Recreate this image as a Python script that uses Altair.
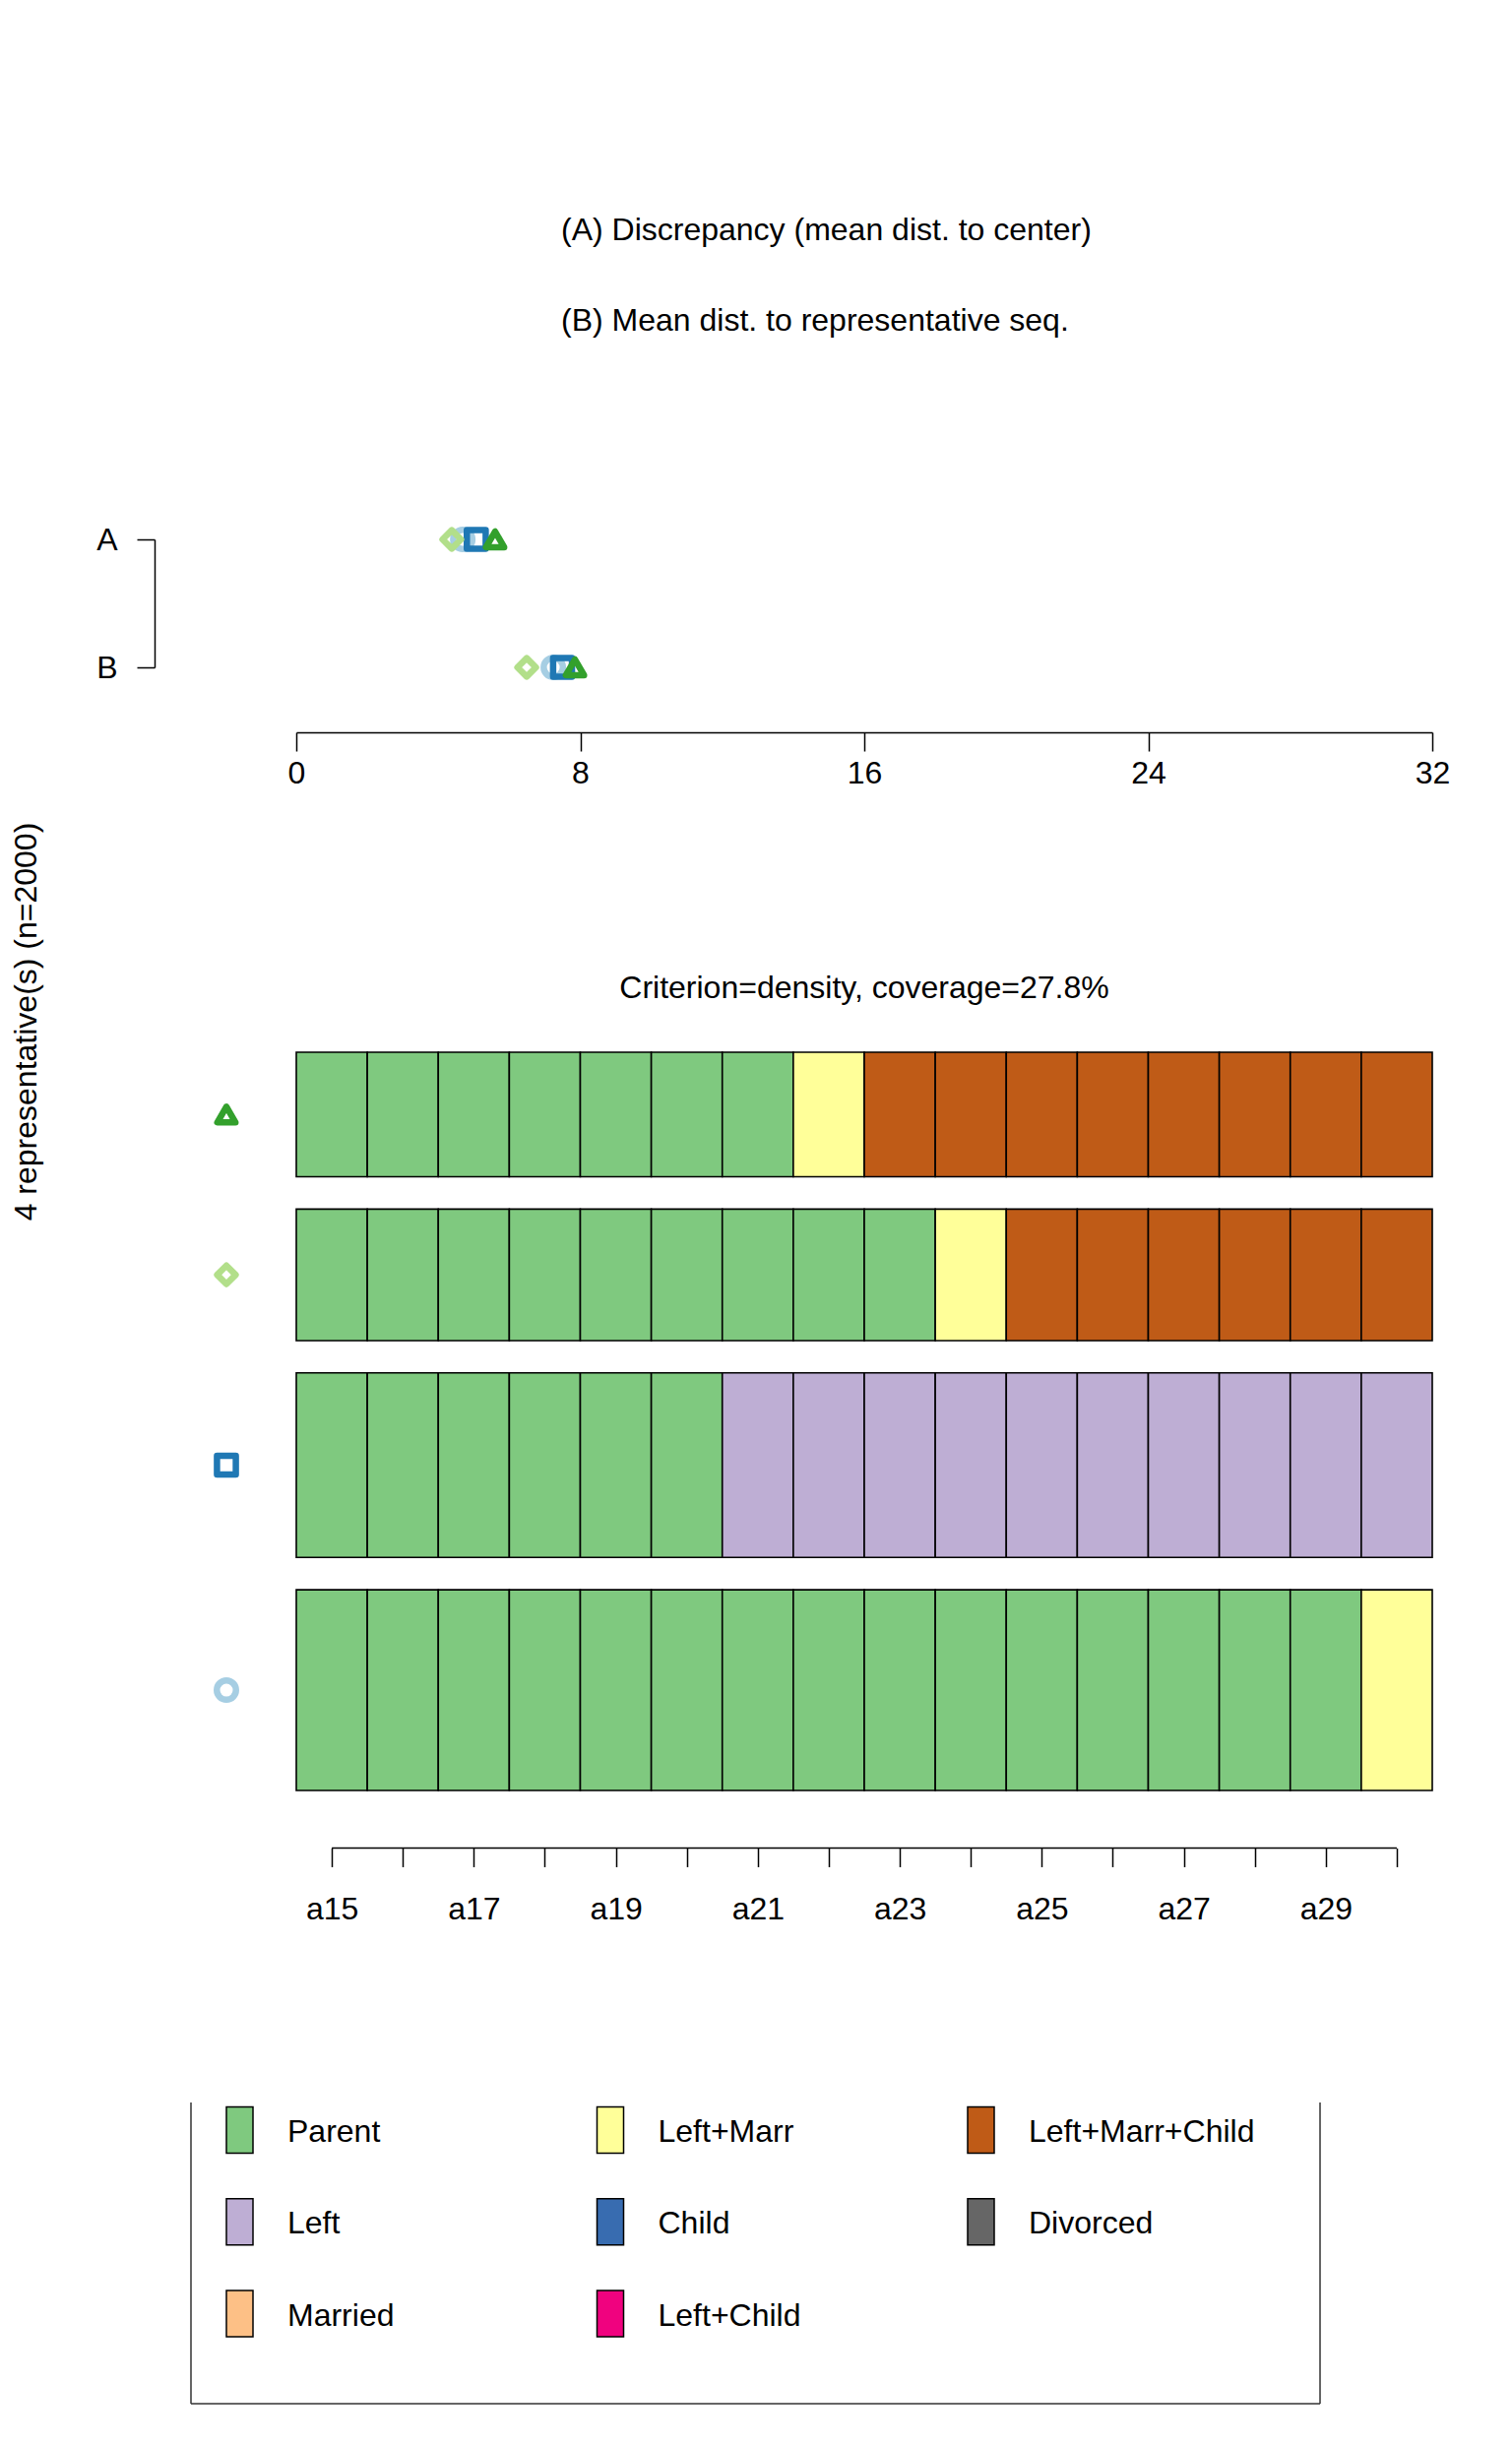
import altair as alt
import pandas as pd

# ---------------- data ----------------
rep_ids = ["1", "2", "3", "4"]
rep_shapes = ["circle", "square", "diamond", "triangle-up"]
rep_colors = ["#A6CEE3", "#1F78B4", "#B2DF8A", "#33A02C"]
rep_sizes = [380, 340, 680, 650]
rep_weights = [174, 160, 114, 108]          # sequences represented (sum = 556 = 27.8% of 2000)

disc_A = [4.69, 5.07, 4.38, 5.60]           # (A) discrepancy
dist_B = [7.24, 7.50, 6.49, 7.85]           # (B) mean dist. to representative
dist_titles = ["(A) Discrepancy (mean dist. to center)", "(B) Mean dist. to representative seq."]
dist_ticks = [0, 8, 16, 24, 32]

ages = list(range(15, 31))
states = ["Parent", "Left", "Married", "Left+Marr", "Child",
          "Left+Child", "Left+Marr+Child", "Divorced"]
state_colors = ["#7FC97F", "#BEAED4", "#FDC086", "#FFFF99", "#386CB0",
                "#F0027F", "#BF5B17", "#666666"]

seq_rep1 = ["Parent"] * 15 + ["Left+Marr"]
seq_rep2 = ["Parent"] * 6 + ["Left"] * 10
seq_rep3 = ["Parent"] * 9 + ["Left+Marr"] + ["Left+Marr+Child"] * 6
seq_rep4 = ["Parent"] * 7 + ["Left+Marr"] + ["Left+Marr+Child"] * 8
sequences = [seq_rep1, seq_rep2, seq_rep3, seq_rep4]

subtitle = "Criterion=density, coverage=27.8%"
ytitle = "4 representative(s) (n=2000)"

# ---------------- tables ----------------
GAP = 28
offsets = []
acc = 0
for w in rep_weights:
    offsets.append(acc)
    acc += w + GAP
y_total = acc - GAP

seq_rows = []
for r, seq, off, w in zip(rep_ids, sequences, offsets, rep_weights):
    for a, s in zip(ages, seq):
        seq_rows.append({"rep": r, "age": a, "state": s, "y0": off, "y1": off + w})
seq_df = pd.DataFrame(seq_rows)
seq_df["x0"] = seq_df["age"] - 0.5
seq_df["x1"] = seq_df["age"] + 0.5

mark_df = pd.DataFrame({"rep": rep_ids,
                        "mid": [o + w / 2 for o, w in zip(offsets, rep_weights)]})

dist_df = pd.DataFrame({"rep": rep_ids * 2,
                        "measure": ["A"] * 4 + ["B"] * 4,
                        "value": disc_A + dist_B})

leg_df = pd.DataFrame({"state": states,
                       "col": [i // 3 for i in range(len(states))],
                       "row": [i % 3 for i in range(len(states))]})

# ---------------- layout ----------------
W, H = 1520, 2470
FONT = "Liberation Sans"
FS = 32
SW = 6.5

shape_scale = alt.Scale(domain=rep_ids, range=rep_shapes)
color_scale = alt.Scale(domain=rep_ids, range=rep_colors)
size_scale = alt.Scale(domain=rep_ids, range=rep_sizes)
state_scale = alt.Scale(domain=states, range=state_colors)

axis_common = dict(tickColor="black", domainColor="black", tickWidth=1.5, domainWidth=1.5,
                   labelColor="black", labelFont=FONT, labelFontSize=FS, grid=False,
                   title=None, labelFlush=False, labelOverlap=False)

# titles of the distance panel
dist_title_layer = alt.Chart(pd.DataFrame({"t": dist_titles})).mark_text(
    align="left", baseline="middle", font=FONT, fontSize=FS, color="black"
).encode(
    x=alt.value(562),
    y=alt.Y("t:N", scale=alt.Scale(domain=dist_titles, range=[226, 318], padding=0), axis=None),
    text="t:N",
)

# distance points
dist_layer = alt.Chart(dist_df).mark_point(
    filled=False, strokeWidth=SW, strokeJoin="round", opacity=1
).encode(
    x=alt.X("value:Q",
            scale=alt.Scale(domain=[0, 32], range=[293, 1447], nice=False, zero=False),
            axis=alt.Axis(orient="bottom", offset=736 - H, values=dist_ticks, tickSize=19,
                          labelPadding=7, **axis_common)),
    y=alt.Y("measure:N", scale=alt.Scale(domain=["A", "B"], range=[540, 670], padding=0),
            axis=alt.Axis(orient="left", offset=-149, tickSize=18, labelPadding=20, **axis_common)),
    shape=alt.Shape("rep:N", scale=shape_scale, legend=None),
    color=alt.Color("rep:N", scale=color_scale, legend=None),
    size=alt.Size("rep:O", scale=size_scale, legend=None),
)

# subtitle of sequence panel
sub_layer = alt.Chart(pd.DataFrame({"t": [subtitle]})).mark_text(
    align="center", baseline="middle", font=FONT, fontSize=FS, color="black"
).encode(x=alt.value(870), y=alt.value(996), text="t:N")

X_AGE = alt.Scale(domain=[ages[0] - 0.5, ages[-1] + 0.5], range=[293, 1447], nice=False, zero=False)
Y_SEQ = alt.Scale(domain=[0, y_total], range=[1811, 1061], nice=False, zero=False)

seq_layer = alt.Chart(seq_df).mark_rect(stroke="black", strokeWidth=1.6).encode(
    x=alt.X("x0:Q", scale=X_AGE,
            axis=alt.Axis(orient="bottom", offset=1869.5 - H, values=ages, tickSize=19,
                          labelPadding=28, domain=False,
                          labelExpr="datum.value % 2 == 1 ? 'a' + datum.value : ''",
                          **axis_common)),
    x2="x1:Q",
    y=alt.Y("y0:Q", scale=Y_SEQ, axis=None),
    y2="y1:Q",
    color=alt.Color("state:N", scale=state_scale, legend=None),
)

age_line = alt.Chart(pd.DataFrame({"a0": [ages[0]], "a1": [ages[-1]]})).mark_rule(
    color="black", strokeWidth=1.5
).encode(
    x=alt.X("a0:Q", scale=X_AGE, axis=None), x2="a1:Q", y=alt.value(1869.5)
)

marker_layer = alt.Chart(mark_df).mark_point(
    filled=False, strokeWidth=SW, strokeJoin="round", opacity=1
).encode(
    x=alt.value(222),
    y=alt.Y("mid:Q", scale=Y_SEQ, axis=None),
    shape=alt.Shape("rep:N", scale=shape_scale, legend=None),
    color=alt.Color("rep:N", scale=color_scale, legend=None),
    size=alt.Size("rep:O", scale=size_scale, legend=None),
)

ytitle_layer = alt.Chart(pd.DataFrame({"t": [ytitle]})).mark_text(
    align="center", baseline="middle", font=FONT, fontSize=FS, color="black", angle=270
).encode(x=alt.value(19), y=alt.value(1030), text="t:N")

# legend
RECT_PATH = "M-0.5745,-1L0.5745,-1L0.5745,1L-0.5745,1Z"
LX = alt.Scale(domain=[0, 1, 2], range=[235.5, 988.5], padding=0)
LY = alt.Scale(domain=[0, 1, 2], range=[2156, 2342.5], padding=0)

leg_sw = alt.Chart(leg_df).mark_point(
    shape=RECT_PATH, filled=True, size=2209, stroke="black", strokeWidth=1.5, opacity=1
).encode(
    x=alt.X("col:O", scale=LX, axis=None),
    y=alt.Y("row:O", scale=LY, axis=None),
    fill=alt.Fill("state:N", scale=state_scale, legend=None),
)
leg_tx = alt.Chart(leg_df).mark_text(
    align="left", baseline="middle", dx=48.5, dy=2, font=FONT, fontSize=FS, color="black"
).encode(
    x=alt.X("col:O", scale=LX, axis=None),
    y=alt.Y("row:O", scale=LY, axis=None),
    text="state:N",
)

box_style = dict(color="#333333", strokeWidth=1.5)
box_left = alt.Chart(pd.DataFrame({"k": [0]})).mark_rule(**box_style).encode(
    x=alt.value(186), y=alt.value(2128), y2=alt.value(2434))
box_right = alt.Chart(pd.DataFrame({"k": [0]})).mark_rule(**box_style).encode(
    x=alt.value(1333), y=alt.value(2128), y2=alt.value(2434))
box_bottom = alt.Chart(pd.DataFrame({"k": [0]})).mark_rule(**box_style).encode(
    x=alt.value(186), x2=alt.value(1333), y=alt.value(2434))

chart = alt.layer(
    dist_title_layer, dist_layer, sub_layer, seq_layer, age_line, marker_layer,
    ytitle_layer, leg_sw, leg_tx, box_left, box_right, box_bottom
).resolve_scale(
    x="independent", y="independent", color="independent", shape="independent",
    size="independent", fill="independent"
).properties(
    width=W, height=H, autosize=alt.AutoSizeParams(type="none"), padding=0,
    background="white"
).configure(font=FONT, view=alt.ViewConfig(stroke=None))

chart.save("out.html", embed_options={"renderer": "svg", "actions": False})
